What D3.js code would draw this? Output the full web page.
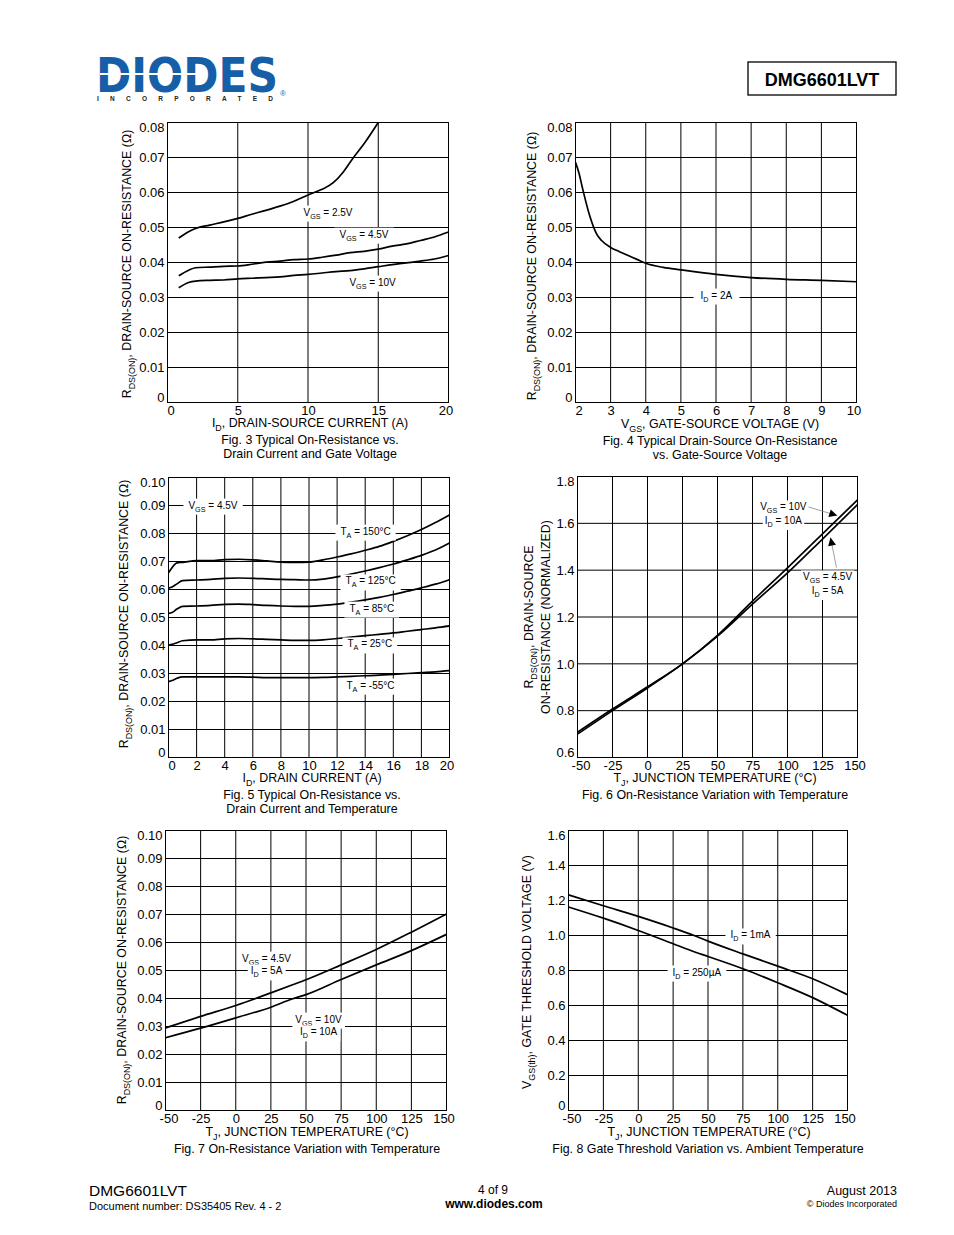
<!DOCTYPE html>
<html>
<head>
<meta charset="utf-8">
<script src="https://cdn.jsdelivr.net/npm/d3@7"></script>
<style>
body { margin: 0; background: #fff; }
svg { display: block; font-family: "Liberation Sans", Arial, sans-serif; }
</style>
</head>
<body>
<script>
// ---- data ----
// Fig. 3  Rds(on) vs drain current, three gate voltages
var fig3CurrentLow = [0.8, 1.5, 2, 3, 4, 5, 6, 7, 8, 9, 10, 11, 11.8, 12.5, 13.2, 14, 15];
var fig3Vgs25 = [0.047, 0.0488, 0.0497, 0.0507, 0.0516, 0.0526, 0.0538, 0.0549, 0.0561, 0.0575, 0.0593, 0.0609, 0.0628, 0.0658, 0.0698, 0.0740, 0.080];
var fig3Current = [0.8, 1.5, 2, 3, 4, 5, 6, 7, 8, 9, 10, 11, 12, 13, 14, 15, 16, 17, 18, 19, 20];
var fig3Vgs45 = [0.0362, 0.0378, 0.0385, 0.0387, 0.0389, 0.039, 0.0395, 0.0401, 0.0404, 0.0408, 0.041, 0.0415, 0.0421, 0.0428, 0.0432, 0.0438, 0.0447, 0.0453, 0.0463, 0.0473, 0.0487];
var fig3Vgs10 = [0.0328, 0.0343, 0.0347, 0.0349, 0.035, 0.0353, 0.0355, 0.0357, 0.0359, 0.0363, 0.0366, 0.037, 0.0374, 0.0377, 0.0382, 0.0388, 0.0394, 0.0399, 0.0404, 0.041, 0.042];
var fig3XTicks = [0, 5, 10, 15, 20];
var fig3YTicks = [0, 0.01, 0.02, 0.03, 0.04, 0.05, 0.06, 0.07, 0.08];
var fig3YLabels = ["0", "0.01", "0.02", "0.03", "0.04", "0.05", "0.06", "0.07", "0.08"];

// Fig. 4  Rds(on) vs gate-source voltage, Id = 2A
var fig4Vgs = [2, 2.1, 2.2, 2.4, 2.6, 2.75, 3, 3.25, 3.5, 3.75, 4, 4.5, 5, 6, 7, 8, 9, 10];
var fig4Rds = [0.0686, 0.0655, 0.0612, 0.0535, 0.0482, 0.0462, 0.0443, 0.0431, 0.042, 0.0409, 0.0398, 0.0386, 0.0379, 0.0366, 0.0357, 0.0352, 0.0349, 0.0345];
var fig4XTicks = [2, 3, 4, 5, 6, 7, 8, 9, 10];

// Fig. 5  Rds(on) vs drain current at five ambient temperatures
var fig5Current = [0, 0.25, 0.6, 1, 2, 3, 4, 5, 6, 7, 8, 9, 10, 11, 12, 13, 14, 15, 16, 17, 18, 19, 20];
var fig5T150 = [0.066, 0.0678, 0.0695, 0.0697, 0.0703, 0.0703, 0.0707, 0.0708, 0.0706, 0.0702, 0.0698, 0.0697, 0.0698, 0.0706, 0.0716, 0.0727, 0.074, 0.0754, 0.0772, 0.0792, 0.0814, 0.0839, 0.0866];
var fig5T125 = [0.0605, 0.0609, 0.062, 0.0632, 0.0634, 0.0636, 0.064, 0.0641, 0.064, 0.0638, 0.0636, 0.0635, 0.0634, 0.0637, 0.0645, 0.0655, 0.0666, 0.0678, 0.0691, 0.0706, 0.0722, 0.0741, 0.0766];
var fig5T85 = [0.0515, 0.0518, 0.053, 0.054, 0.0541, 0.0543, 0.0547, 0.0548, 0.0546, 0.0543, 0.0541, 0.054, 0.054, 0.0543, 0.0548, 0.0555, 0.0563, 0.0572, 0.0582, 0.0594, 0.0606, 0.0619, 0.0635];
var fig5T25 = [0.0401, 0.0404, 0.041, 0.0417, 0.042, 0.042, 0.0424, 0.0425, 0.0424, 0.0422, 0.042, 0.0418, 0.0418, 0.042, 0.0425, 0.043, 0.0435, 0.044, 0.0445, 0.0451, 0.0457, 0.0463, 0.047];
var fig5Tm55 = [0.0271, 0.0275, 0.0283, 0.0288, 0.0288, 0.0288, 0.0288, 0.0288, 0.0287, 0.0285, 0.0285, 0.0285, 0.0285, 0.0286, 0.0288, 0.029, 0.0292, 0.0294, 0.0297, 0.03, 0.0303, 0.0306, 0.031];
var fig5XTicks = [0, 2, 4, 6, 8, 10, 12, 14, 16, 18, 20];
var fig5YTicks = [0, 0.01, 0.02, 0.03, 0.04, 0.05, 0.06, 0.07, 0.08, 0.09, 0.10];
var fig5YLabels = ["0", "0.01", "0.02", "0.03", "0.04", "0.05", "0.06", "0.07", "0.08", "0.09", "0.10"];

// Fig. 6  normalised Rds(on) vs junction temperature
var fig6Temp = [-50, -25, 0, 25, 50, 75, 100, 125, 150];
var fig6Vgs10 = [0.708, 0.807, 0.902, 1.0, 1.122, 1.268, 1.41, 1.555, 1.70];
var fig6Vgs45 = [0.700, 0.800, 0.897, 1.0, 1.118, 1.255, 1.388, 1.533, 1.68];
var tempTicks = [-50, -25, 0, 25, 50, 75, 100, 125, 150];
var fig6YTicks = [0.6, 0.8, 1.0, 1.2, 1.4, 1.6, 1.8];
var fig6YLabels = ["0.6", "0.8", "1.0", "1.2", "1.4", "1.6", "1.8"];

// Fig. 7  Rds(on) vs junction temperature
var fig7Temp = [-50, -25, 0, 25, 40, 50, 75, 100, 125, 150];
var fig7Vgs45 = [0.0295, 0.0336, 0.0375, 0.042, 0.0448, 0.0467, 0.052, 0.0575, 0.0637, 0.0702];
var fig7Vgs10 = [0.026, 0.0294, 0.0331, 0.0369, 0.0398, 0.0414, 0.0468, 0.052, 0.0571, 0.0629];

// Fig. 8  gate threshold voltage vs temperature
var fig8Temp = [-50, -25, 0, 25, 40, 50, 75, 100, 125, 150];
var fig8Id1mA = [1.232, 1.17, 1.109, 1.043, 1.0, 0.968, 0.895, 0.825, 0.753, 0.662];
var fig8Id250uA = [1.163, 1.099, 1.029, 0.953, 0.907, 0.88, 0.81, 0.73, 0.645, 0.544];
var fig8YTicks = [0, 0.2, 0.4, 0.6, 0.8, 1.0, 1.2, 1.4, 1.6];
var fig8YLabels = ["0", "0.2", "0.4", "0.6", "0.8", "1.0", "1.2", "1.4", "1.6"];

var width = 954, height = 1235,
    titleSize = 12.4;
var svg = d3.select("body").append("svg").attr("width", width).attr("height", height);

// text with subscripts: parts = [[text, isSub], ...]
function rich(t, parts, size) {
  var shift = 0;
  parts.forEach(function(p) {
    var want = p[1] ? size * 0.3 : 0;
    t.append("tspan").attr("dy", want - shift)
      .attr("font-size", p[1] ? size * 0.72 : size).text(p[0]);
    shift = want;
  });
}

function whiteBox(g, t, px, py) {
  var b = t.node().getBBox();
  g.insert("rect", function() { return t.node(); })
    .attr("x", b.x - px).attr("y", b.y - py)
    .attr("width", b.width + 2 * px).attr("height", b.height + 2 * py)
    .attr("fill", "#fff");
}

function drawPanel(c) {
  var x = d3.scaleLinear().domain(c.xDomain).range([c.box.l + 0.5, c.box.r + 0.5]),
      y = d3.scaleLinear().domain(c.yDomain).range([c.box.b + 0.5, c.box.t + 0.5]);
  var g = svg.append("g");

  g.append("g").selectAll("line").data(c.xTicks.slice(1, -1)).enter().append("line")
    .attr("x1", function(d) { return x(d); }).attr("x2", function(d) { return x(d); })
    .attr("y1", y.range()[1]).attr("y2", y.range()[0])
    .attr("stroke", "#000");
  g.append("g").selectAll("line").data(c.yTicks.slice(1, -1)).enter().append("line")
    .attr("y1", function(d) { return y(d); }).attr("y2", function(d) { return y(d); })
    .attr("x1", x.range()[0]).attr("x2", x.range()[1])
    .attr("stroke", "#000");

  var line = d3.line().x(function(d) { return x(d[0]); }).y(function(d) { return y(d[1]); })
    .curve(d3.curveMonotoneX);
  c.series.forEach(function(s) {
    g.append("path").datum(d3.zip(s.x, s.y)).attr("d", line)
      .attr("fill", "none").attr("stroke", "#000").attr("stroke-width", 1.7);
  });

  g.append("rect").attr("x", x.range()[0]).attr("y", y.range()[1])
    .attr("width", x.range()[1] - x.range()[0]).attr("height", y.range()[0] - y.range()[1])
    .attr("fill", "none").attr("stroke", "#000");

  // curve labels
  (c.labels || []).forEach(function(l) {
    var t = g.append("text").attr("x", x(l.x)).attr("y", y(l.y))
      .attr("text-anchor", l.anchor || "start").attr("font-size", 10);
    rich(t, l.parts, 10);
    whiteBox(g, t, l.padX == null ? 5 : l.padX, 1);
  });

  (c.arrows || []).forEach(function(a) {
    g.append("line").attr("x1", x(a.from[0])).attr("y1", y(a.from[1]))
      .attr("x2", x(a.to[0])).attr("y2", y(a.to[1]))
      .attr("stroke", "#888").attr("stroke-width", 0.8).attr("marker-end", "url(#arrowHead)");
  });

  var xa = d3.axisBottom(x).tickValues(c.xTicks).tickSize(0).tickPadding(3)
    .tickFormat(function(d, i) { return c.xLabels ? c.xLabels[i] : d; });
  var gx = g.append("g").attr("transform", "translate(0," + y.range()[0] + ")").call(xa);
  gx.select(".domain").remove();
  gx.selectAll("text").attr("font-size", 13).attr("font-family", null).attr("fill", "#000")
    .attr("dx", function(d, i) { return i === 0 ? 3 : (i === c.xTicks.length - 1 ? -3 : 0); });

  var ya = d3.axisLeft(y).tickValues(c.yTicks).tickSize(0).tickPadding(3)
    .tickFormat(function(d, i) { return c.yLabels[i]; });
  var gy = g.append("g").attr("transform", "translate(" + x.range()[0] + ",0)").call(ya);
  gy.select(".domain").remove();
  gy.selectAll("text").attr("font-size", 13).attr("font-family", null).attr("fill", "#000")
    .attr("dy", function(d, i) { return i === 0 ? "-0.05em" : (i === c.yTicks.length - 1 ? "0.7em" : "0.32em"); });

  var xt = g.append("text").attr("x", c.xTitlePos[0]).attr("y", c.xTitlePos[1])
    .attr("text-anchor", "middle").attr("font-size", titleSize);
  rich(xt, c.xTitle, titleSize);

  c.yTitle.forEach(function(parts, i) {
    var p = c.yTitlePos[i];
    var yt = g.append("text").attr("transform", "translate(" + p[0] + "," + p[1] + ") rotate(-90)")
      .attr("text-anchor", "middle").attr("font-size", titleSize);
    rich(yt, parts, titleSize);
  });

  c.caption.forEach(function(s, i) {
    g.append("text").attr("x", c.captionPos[0]).attr("y", c.captionPos[1] + i * 14)
      .attr("text-anchor", "middle").attr("font-size", titleSize).text(s);
  });
}

svg.append("defs").append("marker").attr("id", "arrowHead")
  .attr("viewBox", "0 0 10 10").attr("refX", 10).attr("refY", 5)
  .attr("markerWidth", 11).attr("markerHeight", 8).attr("markerUnits", "userSpaceOnUse")
  .attr("orient", "auto")
  .append("path").attr("d", "M0,0L10,5L0,10Z").attr("fill", "#000");

// ---- header ----
var logo = svg.append("g");
logo.append("text").attr("x", 96).attr("y", 92).attr("font-size", 48)
  .attr("font-family", "DejaVu Sans").attr("font-weight", "bold")
  .attr("textLength", 182).attr("lengthAdjust", "spacingAndGlyphs")
  .attr("fill", "#175ea8").text("DIODES");
logo.append("rect").attr("x", 100).attr("y", 73).attr("width", 100).attr("height", 2).attr("fill", "#fff");
logo.append("text").attr("x", 97).attr("y", 101).attr("font-size", 6.5).attr("font-weight", "bold")
  .attr("textLength", 176).attr("fill", "#222").text("INCORPORATED");
logo.append("text").attr("x", 280).attr("y", 96).attr("font-size", 8).attr("fill", "#175ea8").text("®");

svg.append("rect").attr("x", 748).attr("y", 62).attr("width", 148).attr("height", 33)
  .attr("fill", "none").attr("stroke", "#000").attr("stroke-width", 1.3);
svg.append("text").attr("x", 822).attr("y", 86).attr("text-anchor", "middle")
  .attr("font-size", 18).attr("font-weight", "bold").text("DMG6601LVT");

var rds = [["R", 0], ["DS(ON)", 1], [", DRAIN-SOURCE ON-RESISTANCE (\u03A9)", 0]];
var tj = [["T", 0], ["J", 1], [", JUNCTION TEMPERATURE (\u00B0C)", 0]];
function vgs(v) { return [["V", 0], ["GS", 1], [" = " + v, 0]]; }
function idl(v) { return [["I", 0], ["D", 1], [" = " + v, 0]]; }
function ta(v) { return [["T", 0], ["A", 1], [" = " + v, 0]]; }

drawPanel({
  box: {l: 167, t: 122, r: 448, b: 402},
  xDomain: [0, 20], yDomain: [0, 0.08],
  xTicks: fig3XTicks, yTicks: fig3YTicks, yLabels: fig3YLabels,
  series: [{x: fig3CurrentLow, y: fig3Vgs25}, {x: fig3Current, y: fig3Vgs45}, {x: fig3Current, y: fig3Vgs10}],
  labels: [
    {x: 9.68, y: 0.0534, parts: vgs("2.5V")},
    {x: 12.24, y: 0.0471, parts: vgs("4.5V")},
    {x: 12.95, y: 0.0334, parts: vgs("10V")}
  ],
  xTitle: [["I", 0], ["D", 1], [", DRAIN-SOURCE CURRENT (A)", 0]], xTitlePos: [310, 427],
  yTitle: [rds], yTitlePos: [[131, 264]],
  caption: ["Fig. 3 Typical On-Resistance vs.", "Drain Current and Gate Voltage"], captionPos: [310, 444]
});

drawPanel({
  box: {l: 575, t: 122, r: 856, b: 402},
  xDomain: [2, 10], yDomain: [0, 0.08],
  xTicks: fig4XTicks, yTicks: fig3YTicks, yLabels: fig3YLabels,
  series: [{x: fig4Vgs, y: fig4Rds}],
  labels: [{x: 5.56, y: 0.0297, parts: idl("2A"), padX: 7}],
  xTitle: [["V", 0], ["GS", 1], [", GATE-SOURCE VOLTAGE (V)", 0]], xTitlePos: [720, 428],
  yTitle: [rds], yTitlePos: [[536, 266]],
  caption: ["Fig. 4 Typical Drain-Source On-Resistance", "vs. Gate-Source Voltage"], captionPos: [720, 445]
});

drawPanel({
  box: {l: 168, t: 477, r: 449, b: 757},
  xDomain: [0, 20], yDomain: [0, 0.10],
  xTicks: fig5XTicks, yTicks: fig5YTicks, yLabels: fig5YLabels,
  series: [{x: fig5Current, y: fig5T150}, {x: fig5Current, y: fig5T125}, {x: fig5Current, y: fig5T85},
           {x: fig5Current, y: fig5T25}, {x: fig5Current, y: fig5Tm55}],
  labels: [
    {x: 1.42, y: 0.0889, parts: vgs("4.5V")},
    {x: 12.24, y: 0.0796, parts: ta("150\u00B0C")},
    {x: 12.6, y: 0.0618, parts: ta("125\u00B0C")},
    {x: 12.88, y: 0.0521, parts: ta("85\u00B0C")},
    {x: 12.74, y: 0.0393, parts: ta("25\u00B0C")},
    {x: 12.67, y: 0.0246, parts: ta("-55\u00B0C")}
  ],
  xTitle: [["I", 0], ["D", 1], [", DRAIN CURRENT (A)", 0]], xTitlePos: [312, 782],
  yTitle: [rds], yTitlePos: [[128, 614]],
  caption: ["Fig. 5 Typical On-Resistance vs.", "Drain Current and Temperature"], captionPos: [312, 799]
});

drawPanel({
  box: {l: 577, t: 476, r: 857, b: 757},
  xDomain: [-50, 150], yDomain: [0.6, 1.8],
  xTicks: tempTicks, yTicks: fig6YTicks, yLabels: fig6YLabels,
  series: [{x: fig6Temp, y: fig6Vgs10}, {x: fig6Temp, y: fig6Vgs45}],
  labels: [
    {x: 97, y: 1.655, parts: vgs("10V"), anchor: "middle", padX: 2},
    {x: 97, y: 1.597, parts: idl("10A"), anchor: "middle", padX: 2},
    {x: 128.6, y: 1.356, parts: vgs("4.5V"), anchor: "middle", padX: 2},
    {x: 128.6, y: 1.298, parts: idl("5A"), anchor: "middle", padX: 2}
  ],
  arrows: [{from: [115, 1.67], to: [135.5, 1.633]}, {from: [135, 1.411], to: [130.7, 1.539]}],
  xTitle: tj, xTitlePos: [715, 782],
  yTitle: [[["R", 0], ["DS(ON)", 1], [", DRAIN-SOURCE", 0]], [["ON-RESISTANCE (NORMALIZED)", 0]]],
  yTitlePos: [[533, 617], [550, 617]],
  caption: ["Fig. 6 On-Resistance Variation with Temperature"], captionPos: [715, 799]
});

drawPanel({
  box: {l: 165, t: 830, r: 446, b: 1110},
  xDomain: [-50, 150], yDomain: [0, 0.10],
  xTicks: tempTicks, yTicks: fig5YTicks, yLabels: fig5YLabels,
  series: [{x: fig7Temp, y: fig7Vgs45}, {x: fig7Temp, y: fig7Vgs10}],
  labels: [
    {x: 21.9, y: 0.0532, parts: vgs("4.5V"), anchor: "middle", padX: 3},
    {x: 21.9, y: 0.0486, parts: idl("5A"), anchor: "middle", padX: 3},
    {x: 58.9, y: 0.0314, parts: vgs("10V"), anchor: "middle", padX: 3},
    {x: 58.9, y: 0.0268, parts: idl("10A"), anchor: "middle", padX: 3}
  ],
  xTitle: tj, xTitlePos: [307, 1136],
  yTitle: [rds], yTitlePos: [[126, 970]],
  caption: ["Fig. 7 On-Resistance Variation with Temperature"], captionPos: [307, 1153]
});

drawPanel({
  box: {l: 568, t: 830, r: 847, b: 1110},
  xDomain: [-50, 150], yDomain: [0, 1.6],
  xTicks: tempTicks, yTicks: fig8YTicks, yLabels: fig8YLabels,
  series: [{x: fig8Temp, y: fig8Id1mA}, {x: fig8Temp, y: fig8Id250uA}],
  labels: [
    {x: 66.1, y: 0.983, parts: idl("1mA")},
    {x: 24.6, y: 0.771, parts: idl("250\u00B5A")}
  ],
  xTitle: tj, xTitlePos: [709, 1136],
  yTitle: [[["V", 0], ["GS(th)", 1], [", GATE THRESHOLD VOLTAGE (V)", 0]]], yTitlePos: [[531, 972]],
  caption: ["Fig. 8 Gate Threshold Variation vs. Ambient Temperature"], captionPos: [708, 1153]
});

// ---- footer ----
var foot = svg.append("g");
foot.append("text").attr("x", 89).attr("y", 1196).attr("font-size", 15.5).text("DMG6601LVT");
foot.append("text").attr("x", 89).attr("y", 1210).attr("font-size", 11).text("Document number: DS35405 Rev. 4 - 2");
foot.append("text").attr("x", 493).attr("y", 1194).attr("text-anchor", "middle").attr("font-size", 12).text("4 of 9");
foot.append("text").attr("x", 494).attr("y", 1208).attr("text-anchor", "middle").attr("font-size", 12)
  .attr("font-weight", "bold").text("www.diodes.com");
foot.append("text").attr("x", 897).attr("y", 1195).attr("text-anchor", "end").attr("font-size", 12.5).text("August 2013");
foot.append("text").attr("x", 897).attr("y", 1207).attr("text-anchor", "end").attr("font-size", 9).text("\u00A9 Diodes Incorporated");
</script>
</body>
</html>
